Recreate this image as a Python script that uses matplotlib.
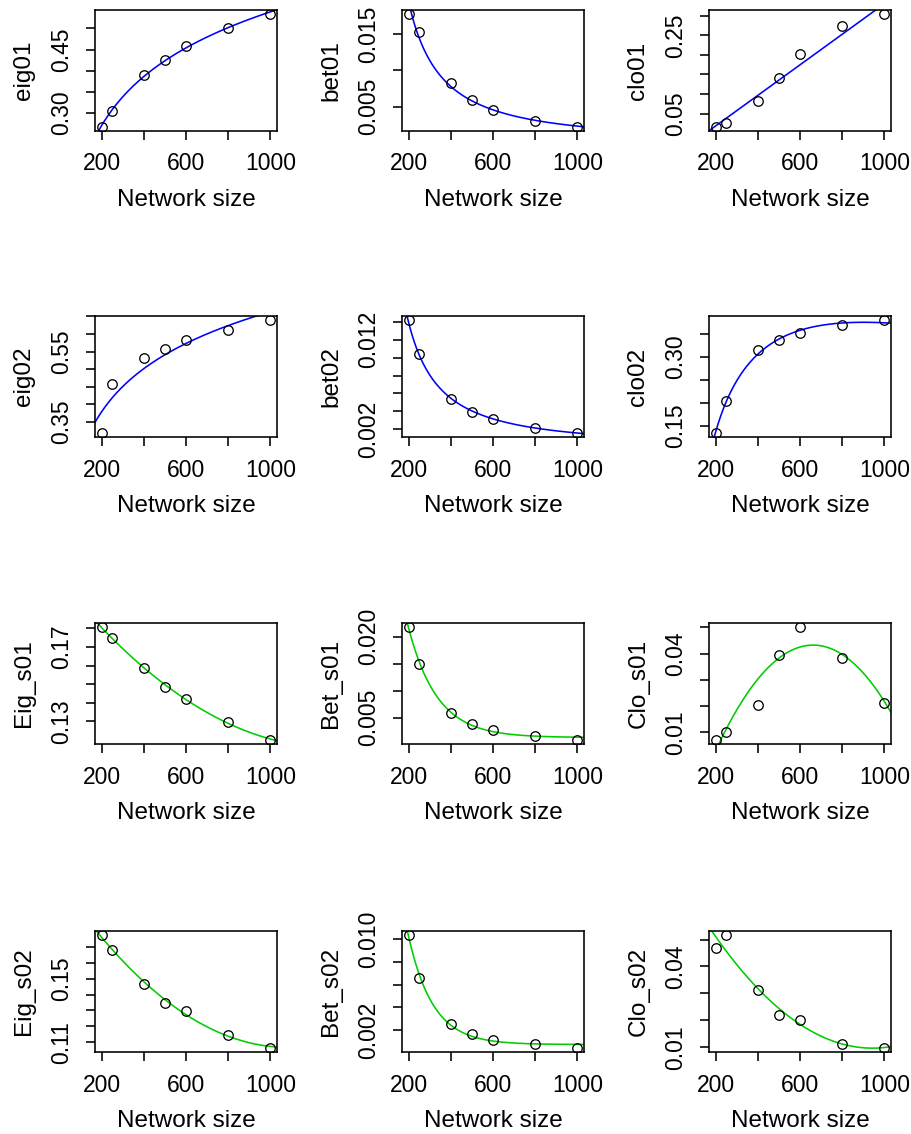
import numpy as np
import matplotlib
matplotlib.use("Agg")
import matplotlib.pyplot as plt

plt.rcParams['font.family'] = ['Liberation Sans', 'DejaVu Sans']

# ---------------- data ----------------
sizes = [200, 250, 400, 500, 600, 800, 1000]

eig01 = [0.268, 0.3055, 0.391, 0.4255, 0.459, 0.502, 0.533]
bet01 = [0.01767, 0.0152, 0.00832, 0.00592, 0.00454, 0.00306, 0.00228]
clo01 = [0.0168, 0.027, 0.0823, 0.142, 0.2017, 0.2738, 0.3036]
eig02 = [0.3205, 0.4574, 0.5325, 0.5572, 0.584, 0.611, 0.638]
bet02 = [0.01412, 0.01037, 0.00538, 0.00391, 0.00316, 0.00215, 0.00166]
clo02 = [0.1362, 0.2039, 0.3146, 0.3379, 0.3525, 0.3692, 0.3794]
eig_s01 = [0.1804, 0.1745, 0.1589, 0.1487, 0.1422, 0.1295, 0.1203]
bet_s01 = [0.02174, 0.015, 0.0059, 0.0039, 0.0028, 0.00158, 0.00096]
clo_s01 = [0.0073, 0.0103, 0.0205, 0.0396, 0.05, 0.0384, 0.0212]
eig_s02 = [0.1774, 0.1681, 0.1468, 0.1348, 0.1298, 0.1146, 0.1066]
bet_s02 = [0.01035, 0.00662, 0.00253, 0.00165, 0.00115, 0.0008, 0.00047]
clo_s02 = [0.0469, 0.0515, 0.0311, 0.0219, 0.02, 0.0112, 0.0099]

panel_names = ["eig01", "bet01", "clo01",
               "eig02", "bet02", "clo02",
               "Eig_s01", "Bet_s01", "Clo_s01",
               "Eig_s02", "Bet_s02", "Clo_s02"]
panel_values = [eig01, bet01, clo01, eig02, bet02, clo02,
                eig_s01, bet_s01, clo_s01, eig_s02, bet_s02, clo_s02]
fit_models = ["log", "power", "linear", "log", "power", "logquad",
              "quad", "expc", "quad", "quad", "expc", "quad"]
curve_colors = ["#0000FF"] * 6 + ["#00CD00"] * 6

x_ticks = [200, 400, 600, 800, 1000]
x_ticklabels = ["200", "", "600", "", "1000"]

y_ticks = [
    [0.30, 0.35, 0.40, 0.45, 0.50],
    [0.005, 0.010, 0.015],
    [0.05, 0.10, 0.15, 0.20, 0.25, 0.30],
    [0.35, 0.40, 0.45, 0.50, 0.55, 0.60, 0.65],
    [0.002, 0.004, 0.006, 0.008, 0.010, 0.012, 0.014],
    [0.15, 0.20, 0.25, 0.30, 0.35],
    [0.13, 0.14, 0.15, 0.16, 0.17, 0.18],
    [0.005, 0.010, 0.015, 0.020],
    [0.01, 0.02, 0.03, 0.04, 0.05],
    [0.11, 0.12, 0.13, 0.14, 0.15, 0.16, 0.17],
    [0.002, 0.004, 0.006, 0.008, 0.010],
    [0.01, 0.02, 0.03, 0.04, 0.05],
]
y_ticklabels = [
    ["0.30", "", "", "0.45", ""],
    ["0.005", "", "0.015"],
    ["0.05", "", "", "", "0.25", ""],
    ["0.35", "", "", "", "0.55", "", ""],
    ["0.002", "", "", "", "", "0.012", ""],
    ["0.15", "", "", "0.30", ""],
    ["0.13", "", "", "", "0.17", ""],
    ["0.005", "", "", "0.020"],
    ["0.01", "", "", "0.04", ""],
    ["0.11", "", "", "", "0.15", "", ""],
    ["0.002", "", "", "", "0.010"],
    ["0.01", "", "", "0.04", ""],
]


# ---------------- fitting helpers ----------------
def fit_curve(model, x, y, xs):
    x = np.asarray(x, float)
    y = np.asarray(y, float)
    if model == "log":
        c = np.polyfit(np.log(x), y, 1)
        return np.polyval(c, np.log(xs))
    if model == "power":
        c = np.polyfit(np.log(x), np.log(y), 1)
        return np.exp(np.polyval(c, np.log(xs)))
    if model == "linear":
        c = np.polyfit(x, y, 1)
        return np.polyval(c, xs)
    if model == "logquad":
        c = np.polyfit(np.log(x), y, 2)
        return np.polyval(c, np.log(xs))
    if model == "quad":
        c = np.polyfit(x, y, 2)
        return np.polyval(c, xs)
    if model == "expc":
        best = None
        for k in np.linspace(0.0005, 0.03, 2000):
            A = np.column_stack([np.ones_like(x), np.exp(-k * x)])
            coef, *_ = np.linalg.lstsq(A, y, rcond=None)
            r = np.sum((A @ coef - y) ** 2)
            if best is None or r < best[0]:
                best = (r, k, coef)
        _, k, coef = best
        return coef[0] + coef[1] * np.exp(-k * xs)
    raise ValueError(model)


# ---------------- layout (pixels) ----------------
W, H = 912, 1134
DPI = 100
col_left = [95, 402, 709]
row_top = [10, 316, 623, 931]
box_w, box_h = 182, 121

PX = 72.0 / DPI  # points per pixel
FS_TICK = 16.5
FS_TITLE = 17.5

fig = plt.figure(figsize=(W / DPI, H / DPI), dpi=DPI)

for i, (name, vals) in enumerate(zip(panel_names, panel_values)):
    r, c = divmod(i, 3)
    left = col_left[c] / W
    bottom = 1 - (row_top[r] + box_h) / H
    ax = fig.add_axes([left, bottom, box_w / W, box_h / H])

    xmin, xmax = min(sizes), max(sizes)
    xr = xmax - xmin
    ymin, ymax = min(vals), max(vals)
    yr = ymax - ymin
    ax.set_xlim(xmin - 0.04 * xr, xmax + 0.04 * xr)
    ax.set_ylim(ymin - 0.04 * yr, ymax + 0.04 * yr)

    xs = np.linspace(xmin - 0.04 * xr, xmax + 0.04 * xr, 400)
    ys = fit_curve(fit_models[i], sizes, vals, xs)
    ax.plot(xs, ys, color=curve_colors[i], lw=1.6 * PX, zorder=2)

    ax.plot(sizes, vals, linestyle="none", marker="o", markersize=9.5 * PX,
            markerfacecolor="none", markeredgecolor="black",
            markeredgewidth=1.3 * PX, zorder=3)

    for sp in ax.spines.values():
        sp.set_linewidth(1.6 * PX)
        sp.set_color("black")

    ax.set_xticks(x_ticks)
    ax.set_xticklabels(x_ticklabels)
    ax.set_yticks(y_ticks[i])
    ax.set_yticklabels(y_ticklabels[i])

    ax.tick_params(axis="both", direction="out", length=9 * PX,
                   width=1.6 * PX, labelsize=FS_TICK, colors="black")
    ax.tick_params(axis="x", pad=24 * PX)
    ax.tick_params(axis="y", pad=24 * PX, labelrotation=90)
    for lbl in ax.get_xticklabels():
        lbl.set_va("center")
    for lbl in ax.get_yticklabels():
        lbl.set_ha("center")
        lbl.set_va("center")

    ax.set_xlabel("Network size", fontsize=FS_TITLE)
    ax.xaxis.set_label_coords(0.5, -69.0 / box_h)
    ax.xaxis.label.set_va("center")
    ax.set_ylabel(name, fontsize=FS_TITLE)
    ax.yaxis.set_label_coords(-70.5 / box_w, 0.5)
    ax.yaxis.label.set_va("center")

fig.savefig("out.png", dpi=DPI, facecolor="white")
